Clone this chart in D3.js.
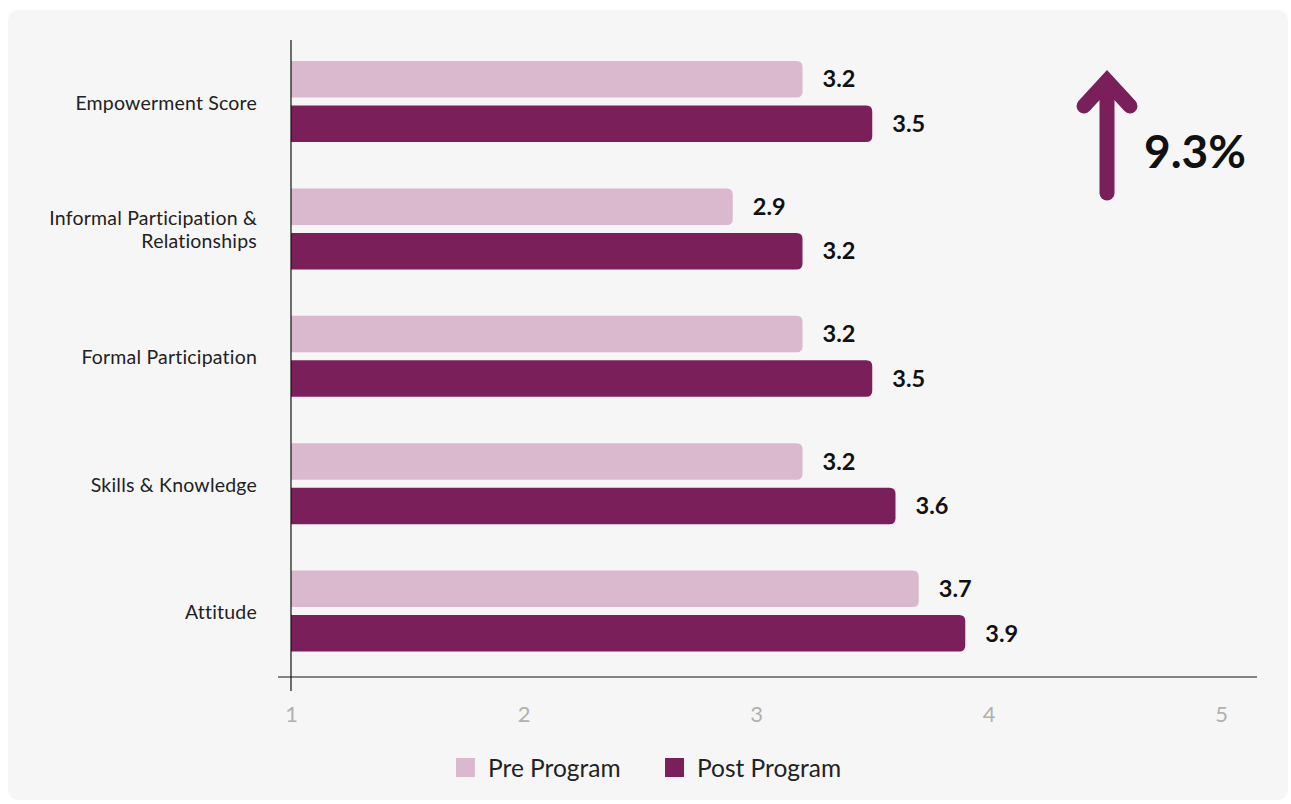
<!DOCTYPE html>
<html>
<head>
<meta charset="utf-8">
<script src="https://cdn.jsdelivr.net/npm/d3@7"></script>
<style>
  html, body { margin: 0; padding: 0; background: #ffffff; }
  svg { display: block; font-family: Lato, "Open Sans", sans-serif; }
</style>
</head>
<body>
<svg id="chart" width="1291" height="804"></svg>
<script>
// Survey dimensions and mean scores before and after the program
const categories = ["Empowerment Score", "Informal Participation & Relationships", "Formal Participation", "Skills & Knowledge", "Attitude"];
const categoryLines = [["Empowerment Score"], ["Informal Participation &", "Relationships"], ["Formal Participation"], ["Skills & Knowledge"], ["Attitude"]];
const preValues = [3.2, 2.9, 3.2, 3.2, 3.7];
const postValues = [3.5, 3.2, 3.5, 3.6, 3.9];
const seriesNames = ["Pre Program", "Post Program"];
const xTicks = [1, 2, 3, 4, 5];
const changeLabel = "9.3%";

const colors = { pre: "#dab8cd", post: "#7b1f5a" };

const svg = d3.select("#chart");

// Card background
svg.append("rect")
  .attr("x", 8).attr("y", 10)
  .attr("width", 1280).attr("height", 790)
  .attr("rx", 10)
  .attr("fill", "#f6f6f6");

const x = d3.scaleLinear().domain([1, 5]).range([291, 1221]);
const y = d3.scaleBand().domain(categories).range([40, 677]).paddingInner(0).paddingOuter(0);
const inner = d3.scaleBand().domain(["pre", "post"]).range([21, 102]).paddingInner(0.18);

// Bar shape: square on the left, rounded on the right
function barPath(x0, x1, y0, h, r) {
  r = Math.min(r, (x1 - x0) / 2, h / 2);
  return `M${x0},${y0}H${x1 - r}Q${x1},${y0} ${x1},${y0 + r}V${y0 + h - r}Q${x1},${y0 + h} ${x1 - r},${y0 + h}H${x0}Z`;
}

const rows = categories.map((c, i) => ({ cat: c, lines: categoryLines[i], pre: preValues[i], post: postValues[i] }));

const groups = svg.append("g").selectAll("g")
  .data(rows).join("g")
  .attr("transform", d => `translate(0,${y(d.cat)})`);

["pre", "post"].forEach(key => {
  groups.append("path")
    .attr("d", d => barPath(x(1), x(d[key]), inner(key), inner.bandwidth(), 6))
    .attr("fill", colors[key]);
  groups.append("text")
    .attr("x", d => x(d[key]) + 20)
    .attr("y", d => inner(key) + inner.bandwidth() / 2)
    .attr("dy", "0.35em")
    .attr("font-size", 23.5)
    .attr("font-weight", 700)
    .attr("fill", "#111")
    .text(d => d[key].toFixed(1));
});

// Category labels
groups.append("text")
  .attr("text-anchor", "end")
  .attr("font-size", 19.5)
  .attr("letter-spacing", 0.2)
  .attr("fill", "#222")
  .each(function (d) {
    const t = d3.select(this);
    const n = d.lines.length;
    const lh = 23;
    const mid = y.bandwidth() / 2 - 1;
    d.lines.forEach((line, j) => {
      t.append("tspan")
        .attr("x", 257)
        .attr("y", mid + (j - (n - 1) / 2) * lh)
        .attr("dy", "0.35em")
        .text(line);
    });
  });

// Axes
svg.append("line")
  .attr("x1", 291).attr("x2", 291)
  .attr("y1", 40).attr("y2", 691)
  .attr("stroke", "#111").attr("stroke-width", 1.2);
svg.append("line")
  .attr("x1", 278).attr("x2", 1257)
  .attr("y1", 677).attr("y2", 677)
  .attr("stroke", "#111").attr("stroke-width", 1.2);

const xAxis = d3.axisBottom(x).tickValues(xTicks).tickSize(0).tickPadding(0).tickFormat(d3.format("d"));
const gx = svg.append("g").attr("transform", "translate(0,677)").call(xAxis);
gx.select(".domain").remove();
gx.selectAll("text")
  .attr("y", 45)
  .attr("dy", "0")
  .attr("font-family", "Lato, sans-serif")
  .attr("font-size", 22)
  .attr("fill", "#b0b0b0");

// Change indicator
const arrow = svg.append("g").attr("fill", "none").attr("stroke", colors.post)
  .attr("stroke-width", 15);
arrow.append("line")
  .attr("x1", 1107).attr("x2", 1107)
  .attr("y1", 193).attr("y2", 82)
  .attr("stroke-linecap", "round");
arrow.append("path")
  .attr("d", "M1084,106L1107,81L1130,106")
  .attr("stroke-linecap", "round")
  .attr("stroke-linejoin", "miter");
svg.append("text")
  .attr("x", 1144).attr("y", 152)
  .attr("dy", "0.35em")
  .attr("font-size", 46)
  .attr("font-weight", 700)
  .attr("fill", "#111")
  .text(changeLabel);

// Legend
const legend = svg.append("g").attr("transform", "translate(456,758)");
const items = legend.selectAll("g").data(seriesNames).join("g")
  .attr("transform", (d, i) => `translate(${i * 209},0)`);
items.append("rect")
  .attr("width", 19).attr("height", 19)
  .attr("fill", (d, i) => i === 0 ? colors.pre : colors.post);
items.append("text")
  .attr("x", 32).attr("y", 10)
  .attr("dy", "0.35em")
  .attr("font-size", 24.5)
  .attr("fill", "#222")
  .text(d => d);
</script>
</body>
</html>
